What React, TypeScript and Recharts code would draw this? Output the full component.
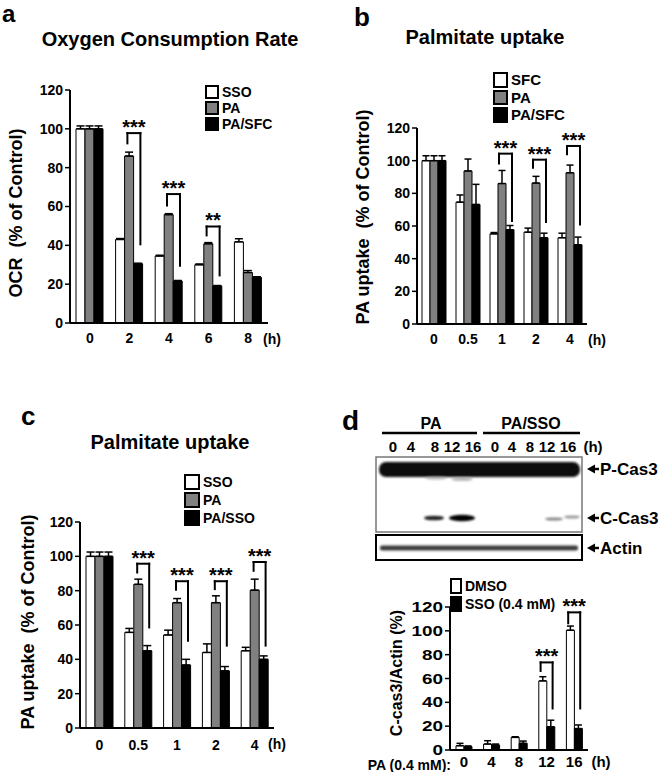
import React from 'react';
import { BarChart, Bar, XAxis, YAxis, ErrorBar, ReferenceLine, Legend } from 'recharts';

const FONT = '"Liberation Sans", Arial, Helvetica, sans-serif';
const GRAY = '#808080';
const Y_TICKS = [0, 20, 40, 60, 80, 100, 120];

// a - oxygen consumption rate
const ocrHours = ['0', '2', '4', '6', '8'];
const ocrSso = [100, 43, 34.5, 30, 41.8];
const ocrSsoErr = [1.5, 0.5, 0.4, 0.4, 1.6];
const ocrPa = [100, 86, 55.8, 40.8, 26];
const ocrPaErr = [1.5, 2, 0.5, 0.6, 1];
const ocrPaSfc = [100, 30.5, 21.6, 19, 23.5];
const ocrPaSfcErr = [1.5, 0.3, 0.3, 0.3, 0.3];
const ocrSig = [
  { cat: '2', top: 97.8, left: 92, right: 40, label: '***' },
  { cat: '4', top: 66.4, left: 60, right: 29, label: '***' },
  { cat: '6', top: 49.7, left: 44.6, right: 24, label: '**' },
];

// b - palmitate uptake with SFC
const upHours = ['0', '0.5', '1', '2', '4'];
const bSfc = [100, 74.6, 55.2, 56.2, 52.8];
const bSfcErr = [3, 4.4, 0.8, 2.5, 2.8];
const bPa = [100, 93.7, 86, 86.3, 92.6];
const bPaErr = [3, 7.3, 8, 4.1, 4.7];
const bPaSfc = [100, 73.2, 57.7, 52.8, 48.5];
const bPaSfcErr = [3, 12.3, 2.6, 2.8, 4.7];
const bSig = [
  { cat: '1', top: 104.3, left: 97.7, right: 62.4, label: '***' },
  { cat: '2', top: 100.6, left: 95, right: 61.8, label: '***' },
  { cat: '4', top: 109, left: 103.3, right: 60.3, label: '***' },
];

// c - palmitate uptake with SSO
const cSso = [100, 55.7, 54.2, 44, 45];
const cSsoErr = [2.5, 2.3, 2.8, 5, 2];
const cPa = [100, 83.7, 73, 73, 80.3];
const cPaErr = [2.5, 3, 2.4, 4, 6.4];
const cPaSso = [100, 45, 36.7, 33.3, 40];
const cPaSsoErr = [2.5, 3, 3.3, 2.5, 2];
const cSig = [
  { cat: '0.5', top: 95.7, left: 90, right: 58, label: '***' },
  { cat: '1', top: 85.5, left: 79.9, right: 50.3, label: '***' },
  { cat: '2', top: 85.5, left: 80.3, right: 47.4, label: '***' },
  { cat: '4', top: 96.7, left: 91, right: 47.4, label: '***' },
];

// d - cleaved caspase 3 / actin
const casHours = ['0', '4', '8', '12', '16'];
const dDmso = [3.6, 5, 10.6, 58, 100.5];
const dDmsoErr = [2, 2.8, 0.5, 3.5, 3.5];
const dSso = [2.8, 4.2, 5.6, 19.5, 18];
const dSsoErr = [0.6, 0.8, 1.9, 5.5, 3];
const dSig = [
  { cat: '12', top: 73.5, left: 65.5, right: 34, label: '***' },
  { cat: '16', top: 115.5, left: 105.5, right: 34, label: '***' },
];

const blotLanes = ['0', '4', '8', '12', '16', '0', '4', '8', '12', '16'];

type Series = { key: string; name: string; fill: string; values: number[]; errors: number[] };
type Sig = { cat: string; top: number; left: number; right: number; label: string };

const legendContent = (order: string[], box: number, pitch: number, fs: number) => (props: any) => {
  const items = [...(props.payload || [])].sort(
    (a: any, b: any) => order.indexOf(a.value) - order.indexOf(b.value)
  );
  return (
    <div style={{ fontFamily: FONT, fontWeight: 'bold', fontSize: fs, color: '#000', lineHeight: 1 }}>
      {items.map((e: any) => (
        <div key={e.value} style={{ display: 'flex', alignItems: 'center', height: pitch }}>
          <span
            style={{
              display: 'inline-block',
              width: box,
              height: pitch - 2,
              background: e.color,
              border: '2px solid #000',
              boxSizing: 'border-box',
              marginRight: 3,
            }}
          />
          {e.value}
        </div>
      ))}
    </div>
  );
};

const legShape = (dx: number, top?: { dx2: number; label: string }) => (p: any) => (
  <g>
    <line x1={p.x1 + dx} y1={p.y1 - 1} x2={p.x2 + dx} y2={p.y2} stroke="#000" strokeWidth={2} />
    {top && (
      <>
        <line x1={p.x1 + dx - 1} y1={p.y1} x2={p.x1 + top.dx2 + 1} y2={p.y1} stroke="#000" strokeWidth={2} />
        <text
          x={p.x1 + (dx + top.dx2) / 2}
          y={p.y1 + 1}
          textAnchor="middle"
          fontSize={20}
          fontWeight="bold"
          fontFamily={FONT}
          fill="#000"
        >
          {top.label}
        </text>
      </>
    )}
  </g>
);

const WideYTick = ({ x, y, payload }: any) => (
  <text
    x={x}
    y={y}
    dy="0.36em"
    textAnchor="end"
    fontSize={14}
    fontWeight="bold"
    fill="#000"
    fontFamily={FONT}
    transform={`translate(${x},0) scale(1.35,1) translate(${-x},0)`}
  >
    {payload.value}
  </text>
);

interface PanelProps {
  pos: { left: number; top: number; width: number; height: number };
  margin: { top: number; right: number; bottom: number; left: number };
  yWidth: number;
  xHeight: number;
  cats: string[];
  series: Series[];
  sig: Sig[];
  barSize: number;
  dxL: number;
  dxR: number;
  legend: { left: number; top: number; box: number; pitch: number; fs: number };
  xFont: number;
  xTickMargin: number;
  wideY?: boolean;
}

const Panel: React.FC<PanelProps> = (p) => {
  const data = p.cats.map((c, i) => {
    const row: any = { cat: c };
    p.series.forEach((s) => {
      row[s.key] = s.values[i];
      row[s.key + 'Err'] = [0, s.errors[i]];
    });
    return row;
  });
  const order = p.series.map((s) => s.name);

  return (
    <div style={{ position: 'absolute', left: p.pos.left, top: p.pos.top }}>
      <BarChart
        width={p.pos.width}
        height={p.pos.height}
        data={data}
        margin={p.margin}
        barSize={p.barSize}
        barGap={0}
        style={{ fontFamily: FONT }}
      >
        <XAxis
          dataKey="cat"
          interval={0}
          height={p.xHeight}
          tickLine={false}
          tickMargin={p.xTickMargin}
          axisLine={{ stroke: '#000', strokeWidth: 2 }}
          tick={{ fill: '#000', fontSize: p.xFont, fontWeight: 'bold', fontFamily: FONT }}
        />
        <YAxis
          width={p.yWidth}
          domain={[0, 120]}
          ticks={Y_TICKS}
          interval={0}
          tickSize={5}
          axisLine={{ stroke: '#000', strokeWidth: 2 }}
          tickLine={{ stroke: '#000', strokeWidth: 1.5 }}
          tick={p.wideY ? <WideYTick /> : { fill: '#000', fontSize: 14, fontWeight: 'bold', fontFamily: FONT }}
        />
        <Legend
          layout="vertical"
          align="center"
          verticalAlign="middle"
          content={legendContent(order, p.legend.box, p.legend.pitch, p.legend.fs)}
          wrapperStyle={{ left: p.legend.left, top: p.legend.top, width: 'auto' }}
        />
        {p.series.map((s) => (
          <Bar
            key={s.key}
            dataKey={s.key}
            name={s.name}
            fill={s.fill}
            stroke="#000"
            strokeWidth={1}
            isAnimationActive={false}
          >
            <ErrorBar
              dataKey={s.key + 'Err'}
              width={p.barSize / 2 - 0.5}
              stroke="#000"
              strokeWidth={1.5}
              direction="y"
              isAnimationActive={false}
            />
          </Bar>
        ))}
        {p.sig.flatMap((s) => [
          <ReferenceLine
            key={s.cat + 'l'}
            segment={[{ x: s.cat, y: s.top }, { x: s.cat, y: s.left }]}
            ifOverflow="visible"
            shape={legShape(p.dxL, { dx2: p.dxR, label: s.label })}
          />,
          <ReferenceLine
            key={s.cat + 'r'}
            segment={[{ x: s.cat, y: s.top }, { x: s.cat, y: s.right }]}
            ifOverflow="visible"
            shape={legShape(p.dxR)}
          />,
        ])}
      </BarChart>
    </div>
  );
};

const Arrow: React.FC<{ y: number; label: string }> = ({ y, label }) => (
  <g>
    <polygon points={`587,${y} 595,${y - 4.5} 595,${y + 4.5}`} fill="#000" />
    <line x1={593} y1={y} x2={599} y2={y} stroke="#000" strokeWidth={2.5} />
    <text x={600} y={y + 6} fontSize={17} fontWeight="bold" fontFamily={FONT} fill="#000">
      {label}
    </text>
  </g>
);

const laneLabelX = [393, 411, 435, 452, 473, 495, 512, 530, 547, 568];

const Overlay: React.FC = () => (
  <svg
    width={660}
    height={772}
    style={{ position: 'absolute', left: 0, top: 0, pointerEvents: 'none' }}
    fontFamily={FONT}
    fontWeight="bold"
    fill="#000"
  >
    <defs>
      <filter id="blur1" x="-10%" y="-50%" width="120%" height="200%">
        <feGaussianBlur stdDeviation="1.3" />
      </filter>
      <filter id="blur2" x="-10%" y="-100%" width="120%" height="300%">
        <feGaussianBlur stdDeviation="0.8" />
      </filter>
    </defs>

    {/* panel letters */}
    <text x={2} y={22} fontSize={24}>a</text>
    <text x={354} y={26} fontSize={26}>b</text>
    <text x={21} y={425} fontSize={26}>c</text>
    <text x={342} y={430} fontSize={28}>d</text>

    {/* titles */}
    <text x={170} y={46} fontSize={20} textAnchor="middle">Oxygen Consumption Rate</text>
    <text x={485} y={44} fontSize={20} textAnchor="middle">Palmitate uptake</text>
    <text x={170} y={449} fontSize={20} textAnchor="middle">Palmitate uptake</text>

    {/* y axis titles */}
    <text transform="translate(16,213) rotate(-90)" fontSize={18} textAnchor="middle" dominantBaseline="central" xmlSpace="preserve">
      OCR  (% of Control)
    </text>
    <text transform="translate(363,217) rotate(-90)" fontSize={18} textAnchor="middle" dominantBaseline="central" xmlSpace="preserve">
      PA uptake  (% of Control)
    </text>
    <text transform="translate(28,622) rotate(-90)" fontSize={18} textAnchor="middle" dominantBaseline="central" xmlSpace="preserve">
      PA uptake  (% of Control)
    </text>
    <text transform="translate(396,673) rotate(-90)" fontSize={16} textAnchor="middle" dominantBaseline="central">
      C-cas3/Actin (%)
    </text>

    {/* hour units */}
    <text x={272} y={344} fontSize={14} textAnchor="middle">(h)</text>
    <text x={597} y={345} fontSize={14} textAnchor="middle">(h)</text>
    <text x={277} y={749} fontSize={14} textAnchor="middle">(h)</text>
    <text x={601} y={767} fontSize={15} textAnchor="middle">(h)</text>
    <text x={451} y={770} fontSize={14} textAnchor="end">PA (0.4 mM):</text>

    {/* western blot */}
    <text x={431} y={429} fontSize={16} textAnchor="middle">PA</text>
    <line x1={382} y1={433} x2={477} y2={433} stroke="#000" strokeWidth={2.5} />
    <text x={531} y={429} fontSize={16} textAnchor="middle">PA/SSO</text>
    <line x1={483} y1={433} x2={580} y2={433} stroke="#000" strokeWidth={2.5} />
    {blotLanes.map((l, i) => (
      <text key={i} x={laneLabelX[i]} y={452} fontSize={15} textAnchor="middle">{l}</text>
    ))}
    <text x={593} y={452} fontSize={15} textAnchor="middle">(h)</text>

    <rect x={376} y={457} width={206} height={75} fill="#fff" stroke="#777" strokeWidth={1.5} />
    <rect x={379} y={462} width={201} height={15} rx={7} fill="#0b0b0b" filter="url(#blur1)" />
    <ellipse cx={436} cy={478} rx={11} ry={1.8} fill="#999" opacity={0.6} filter="url(#blur2)" />
    <ellipse cx={462} cy={479} rx={11} ry={2} fill="#888" opacity={0.6} filter="url(#blur2)" />
    <ellipse cx={434} cy={518} rx={10} ry={2.3} fill="#222" filter="url(#blur2)" />
    <ellipse cx={462} cy={518} rx={13} ry={3.3} fill="#000" filter="url(#blur2)" />
    <ellipse cx={554} cy={519} rx={9} ry={1.6} fill="#888" filter="url(#blur2)" />
    <ellipse cx={572} cy={517} rx={8} ry={1.6} fill="#999" filter="url(#blur2)" />

    <rect x={376} y={535} width={206} height={25} fill="#fff" stroke="#000" strokeWidth={2} />
    <rect x={380} y={545.5} width={198} height={5} rx={2} fill="#3c3c3c" filter="url(#blur2)" />

    <Arrow y={469} label="P-Cas3" />
    <Arrow y={518} label="C-Cas3" />
    <Arrow y={548} label="Actin" />
  </svg>
);

const App: React.FC = () => (
  <div style={{ position: 'absolute', left: 0, top: 0, width: 660, height: 772, background: '#fff' }}>
    <Panel
      pos={{ left: 0, top: 0, width: 330, height: 360 }}
      margin={{ top: 90, right: 62, bottom: 7, left: 30 }}
      yWidth={40}
      xHeight={30}
      cats={ocrHours}
      barSize={9}
      dxL={-2}
      dxR={11}
      xFont={14}
      xTickMargin={4}
      legend={{ left: 205, top: 84, box: 14, pitch: 16, fs: 14 }}
      series={[
        { key: 'sso', name: 'SSO', fill: '#ffffff', values: ocrSso, errors: ocrSsoErr },
        { key: 'pa', name: 'PA', fill: GRAY, values: ocrPa, errors: ocrPaErr },
        { key: 'paSfc', name: 'PA/SFC', fill: '#000000', values: ocrPaSfc, errors: ocrPaSfcErr },
      ]}
      sig={ocrSig}
    />
    <Panel
      pos={{ left: 330, top: 0, width: 330, height: 360 }}
      margin={{ top: 128, right: 73, bottom: 6, left: 47 }}
      yWidth={40}
      xHeight={30}
      cats={upHours}
      barSize={8}
      dxL={-3}
      dxR={10}
      xFont={14}
      xTickMargin={4}
      legend={{ left: 163, top: 71, box: 15, pitch: 17.5, fs: 15 }}
      series={[
        { key: 'sfc', name: 'SFC', fill: '#ffffff', values: bSfc, errors: bSfcErr },
        { key: 'pa', name: 'PA', fill: GRAY, values: bPa, errors: bPaErr },
        { key: 'paSfc', name: 'PA/SFC', fill: '#000000', values: bPaSfc, errors: bPaSfcErr },
      ]}
      sig={bSig}
    />
    <Panel
      pos={{ left: 0, top: 380, width: 330, height: 392 }}
      margin={{ top: 142, right: 56, bottom: 14, left: 40 }}
      yWidth={40}
      xHeight={30}
      cats={upHours}
      barSize={9}
      dxL={-1}
      dxR={11}
      xFont={14}
      xTickMargin={6}
      legend={{ left: 184, top: 93, box: 16, pitch: 18, fs: 14 }}
      series={[
        { key: 'sso', name: 'SSO', fill: '#ffffff', values: cSso, errors: cSsoErr },
        { key: 'pa', name: 'PA', fill: GRAY, values: cPa, errors: cPaErr },
        { key: 'paSso', name: 'PA/SSO', fill: '#000000', values: cPaSso, errors: cPaSsoErr },
      ]}
      sig={cSig}
    />
    <Panel
      pos={{ left: 330, top: 560, width: 330, height: 212 }}
      margin={{ top: 47, right: 72, bottom: 0, left: 75 }}
      yWidth={45}
      xHeight={22}
      cats={casHours}
      barSize={8}
      dxL={-6}
      dxR={6}
      xFont={15}
      xTickMargin={0}
      wideY
      legend={{ left: 120, top: 17, box: 12, pitch: 18, fs: 14 }}
      series={[
        { key: 'dmso', name: 'DMSO', fill: '#ffffff', values: dDmso, errors: dDmsoErr },
        { key: 'sso', name: 'SSO (0.4 mM)', fill: '#000000', values: dSso, errors: dSsoErr },
      ]}
      sig={dSig}
    />
    <Overlay />
  </div>
);

export default App;
